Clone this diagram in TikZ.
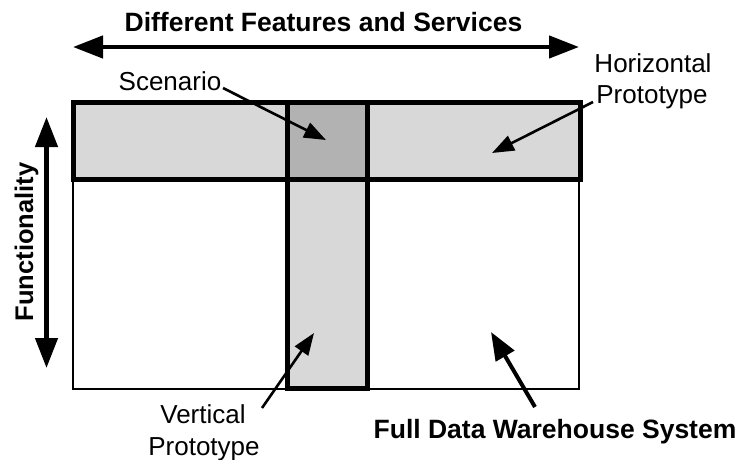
\documentclass[tikz,border=0pt]{standalone}
\usepackage{fontspec}
\setmainfont{Liberation Sans}
\usetikzlibrary{arrows.meta}
\definecolor{lightfill}{HTML}{D8D8D8}
\definecolor{darkfill}{HTML}{B2B2B2}
\begin{document}
\begin{tikzpicture}[x=1pt,y=-1pt,
  lbl/.style={inner sep=0pt,anchor=base,font=\fontsize{26pt}{31pt}\selectfont},
  blbl/.style={lbl,font=\fontsize{26.5pt}{31pt}\selectfont\bfseries},
  band/.style={draw=black,line width=5pt,line join=miter},
  bigarrow/.style={line width=4.5pt,{Triangle[length=30pt,width=22pt]}-{Triangle[length=30pt,width=22pt]}},
  ptr/.style={line width=2.6pt,-{Triangle[length=22pt,width=16pt]}},
  bigptr/.style={line width=4pt,-{Triangle[length=28pt,width=21pt]}}]
\useasboundingbox (0,0) rectangle (741,460);
% coordinates
\coordinate (fullTL) at (73,102);
\coordinate (fullBR) at (579,389);
\coordinate (hTL) at (73,102);
\coordinate (hBR) at (580,179.5);
\coordinate (vTL) at (287,102);
\coordinate (vBR) at (367,388);
% full system
\draw[line width=1.3pt] (fullTL) rectangle (fullBR);
% fills
\fill[lightfill] (hTL) rectangle (hBR);
\fill[lightfill] (vTL) rectangle (vBR);
\fill[darkfill] (vTL) rectangle (367,179.5);
% borders
\draw[band] (hTL) rectangle (hBR);
\draw[band] (vTL) rectangle (vBR);
% top title and arrow
\node[blbl] (title) at (323.5,32) {Different Features and Services};
\coordinate (tl) at (73,47);
\coordinate (tr) at (579,47);
\draw[bigarrow] (tl) -- (tr);
% functionality
\coordinate (ft) at (46.5,117);
\coordinate (fb) at (46.5,368);
\draw[bigarrow] (ft) -- (fb);
\node[blbl,rotate=90,font=\fontsize{25.5pt}{31pt}\selectfont\bfseries] (func) at (33,242) {Functionality};
% scenario
\node[lbl] (scen) at (170,90) {Scenario};
\coordinate (scTail) at (223,88);
\coordinate (scTip) at (326,140);
\draw[ptr] (scTail) -- (scTip);
% horizontal prototype
\node[lbl] (hor1) at (653,72) {Horizontal};
\node[lbl] (hor2) at (652,103) {Prototype};
\coordinate (hpTail) at (593,102);
\coordinate (hpTip) at (492,153);
\draw[ptr] (hpTail) -- (hpTip);
% vertical prototype
\node[lbl] (ver1) at (203,423) {Vertical};
\node[lbl] (ver2) at (204,455) {Prototype};
\coordinate (vpTail) at (262,408);
\coordinate (vpTip) at (314,333);
\draw[ptr] (vpTail) -- (vpTip);
% full data warehouse system
\node[blbl] (fdw) at (555,438) {Full Data Warehouse System};
\coordinate (fdTail) at (535,407);
\coordinate (fdTip) at (491,332);
\draw[bigptr] (fdTail) -- (fdTip);
\end{tikzpicture}
\end{document}
